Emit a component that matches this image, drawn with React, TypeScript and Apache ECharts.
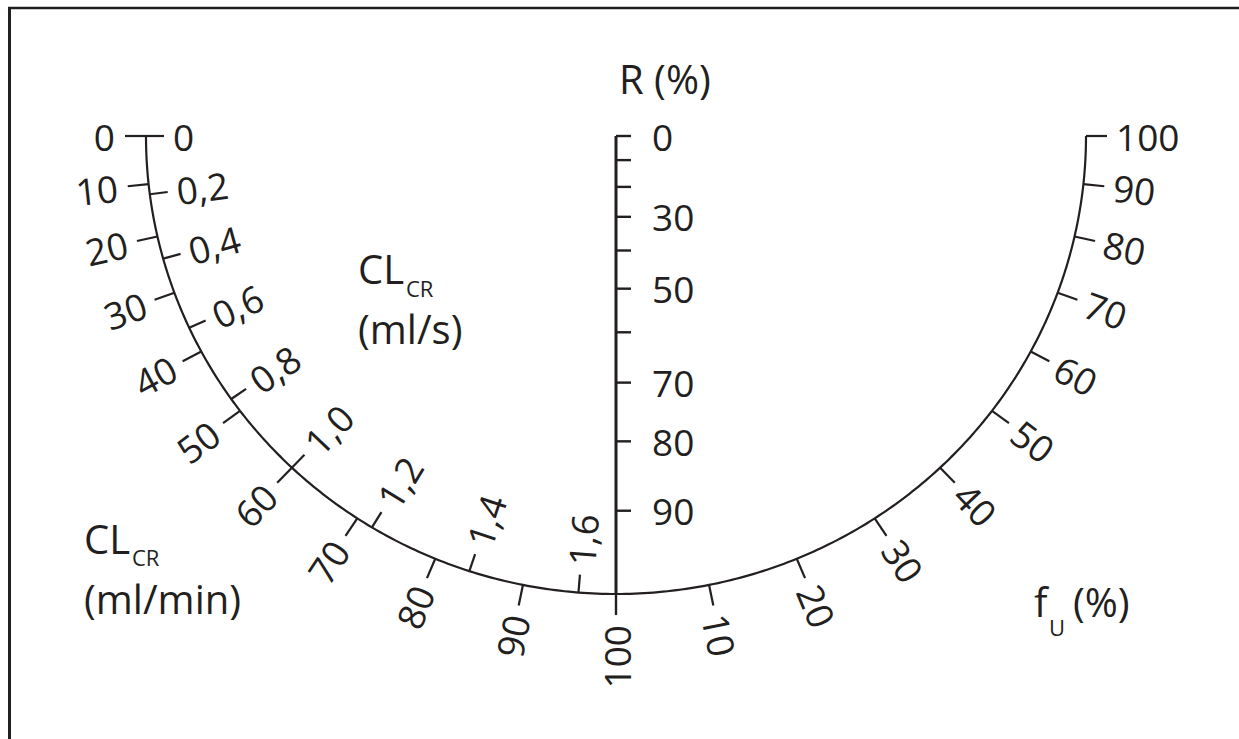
import React, { useEffect, useRef } from "react";
import * as echarts from "echarts";

// ---- data (scale values & labels) ----
const clcrMlMin = [0, 10, 20, 30, 40, 50, 60, 70, 80, 90, 100];
const clcrMlMinLabels = ["0", "10", "20", "30", "40", "50", "60", "70", "80", "90", "100"];
const clcrMlS = [0, 0.2, 0.4, 0.6, 0.8, 1.0, 1.2, 1.4, 1.6];
const clcrMlSLabels = ["0", "0,2", "0,4", "0,6", "0,8", "1,0", "1,2", "1,4", "1,6"];
const fuValues = [0, 10, 20, 30, 40, 50, 60, 70, 80, 90, 100];
const fuLabels = ["", "10", "20", "30", "40", "50", "60", "70", "80", "90", "100"];
const rValues = [0, 10, 20, 30, 40, 50, 60, 70, 80, 90, 100];
const rLabels = ["0", "", "", "30", "", "50", "", "70", "80", "90", ""];
const NORMAL_CLCR = 100; // ml/min
const MLS_TO_MLMIN = 60;

// ---- nomogram scales (Dettli): R = 1 - fU * (1 - CLcr/normal) ----
const leftPhi = (c: number) => 2 * Math.atan(1 - c); // angle from bottom
const rightPhi = (f: number) => 2 * Math.atan(f);
const leftPoint = (c: number) => [-Math.sin(leftPhi(c)), -Math.cos(leftPhi(c))];
const rightPoint = (f: number) => [Math.sin(rightPhi(f)), -Math.cos(rightPhi(f))];
const rAxisY = (r: number) => -r / (2 - r);

const INK = "#231f20";
const FAMILY = '"Open Sans", "Noto Sans", sans-serif';
const NUM_SIZE = 37;
const TITLE_SIZE = 40;
const SUB_SIZE = 22;

function radial(api: any, p: number[]) {
  const o = api.coord([0, 0]);
  let dx = p[0] - o[0];
  let dy = p[1] - o[1];
  const len = Math.hypot(dx, dy) || 1;
  return [dx / len, dy / len];
}

const numStyle = (text: string, align: string) => ({
  text, align, verticalAlign: "middle", fill: INK, fontSize: NUM_SIZE, fontFamily: FAMILY,
});

export default function App() {
  const ref = useRef<HTMLDivElement>(null);
  useEffect(() => {
    if (!ref.current) return;
    const chart = echarts.init(ref.current, undefined, { renderer: "svg" });

    const frameSeries = {
      type: "custom",
      clip: false,
      silent: true,
      data: [[0, 0]],
      renderItem: (params: any, api: any) => {
        const pts: number[][] = [];
        for (let i = 0; i <= 200; i++) pts.push(api.coord(leftPoint(i / 200)));
        for (let i = 0; i <= 200; i++) pts.push(api.coord(rightPoint(i / 200)));
        const top = api.coord([0, rAxisY(0)]);
        const bot = api.coord([0, rAxisY(1)]);
        return {
          type: "group",
          children: [
            { type: "polyline", shape: { points: pts }, style: { stroke: INK, lineWidth: 2.2, fill: null } },
            { type: "line", shape: { x1: top[0], y1: top[1], x2: bot[0], y2: bot[1] }, style: { stroke: INK, lineWidth: 3 } },
          ],
        };
      },
    };

    const leftOuter = {
      type: "custom",
      clip: false,
      silent: true,
      data: clcrMlMin.map((v) => [v, 0]),
      renderItem: (params: any, api: any) => {
        const c = api.value(0) / NORMAL_CLCR;
        const p = api.coord(leftPoint(c));
        const [dx, dy] = radial(api, p);
        const rot = Math.PI / 2 - leftPhi(c);
        return {
          type: "group",
          children: [
            { type: "line", shape: { x1: p[0], y1: p[1], x2: p[0] + dx * 21, y2: p[1] + dy * 21 }, style: { stroke: INK, lineWidth: 2.2 } },
            {
              type: "text", x: p[0] + dx * 31, y: p[1] + dy * 31, rotation: rot,
              style: numStyle(clcrMlMinLabels[params.dataIndex], "right"),
            },
          ],
        };
      },
    };

    const leftInner = {
      type: "custom",
      clip: false,
      silent: true,
      data: clcrMlS.map((v) => [v, 0]),
      renderItem: (params: any, api: any) => {
        const c = (api.value(0) * MLS_TO_MLMIN) / NORMAL_CLCR;
        const p = api.coord(leftPoint(c));
        const [dx, dy] = radial(api, p);
        const rot = Math.PI / 2 - leftPhi(c);
        return {
          type: "group",
          children: [
            { type: "line", shape: { x1: p[0], y1: p[1], x2: p[0] - dx * 18, y2: p[1] - dy * 18 }, style: { stroke: INK, lineWidth: 2.2 } },
            {
              type: "text", x: p[0] - dx * 27, y: p[1] - dy * 27, rotation: rot,
              style: numStyle(clcrMlSLabels[params.dataIndex], "left"),
            },
          ],
        };
      },
    };

    const rightScale = {
      type: "custom",
      clip: false,
      silent: true,
      data: fuValues.map((v) => [v, 0]),
      renderItem: (params: any, api: any) => {
        const f = api.value(0) / 100;
        const p = api.coord(rightPoint(f));
        const [dx, dy] = radial(api, p);
        const rot = -(Math.PI / 2 - rightPhi(f));
        const children: any[] = [
          { type: "line", shape: { x1: p[0], y1: p[1], x2: p[0] + dx * 21, y2: p[1] + dy * 21 }, style: { stroke: INK, lineWidth: 2.2 } },
        ];
        const t = fuLabels[params.dataIndex];
        if (t) {
          children.push({
            type: "text", x: p[0] + dx * 30, y: p[1] + dy * 30, rotation: rot,
            style: numStyle(t, "left"),
          });
        }
        return { type: "group", children };
      },
    };

    const rScale = {
      type: "custom",
      clip: false,
      silent: true,
      data: rValues.map((v) => [0, v]),
      renderItem: (params: any, api: any) => {
        const r = api.value(1) / 100;
        const p = api.coord([0, rAxisY(r)]);
        const children: any[] = [];
        if (r < 1) {
          children.push({ type: "line", shape: { x1: p[0], y1: p[1], x2: p[0] + 15, y2: p[1] }, style: { stroke: INK, lineWidth: 2.4 } });
        }
        const t = rLabels[params.dataIndex];
        if (t) {
          children.push({ type: "text", x: p[0] + 36, y: p[1], style: numStyle(t, "left") });
        }
        return { type: "group", children };
      },
    };

    const txt = (text: string, x: number, y: number, size: number) => ({
      type: "text", x, y, silent: true,
      style: { text, fontSize: size, fontFamily: FAMILY, fill: INK, align: "left", verticalAlign: "middle" },
    });

    chart.setOption({
      animation: false,
      backgroundColor: "#ffffff",
      grid: { left: 146, top: 136, width: 940, height: 458 },
      xAxis: { type: "value", min: -1, max: 1, show: false },
      yAxis: { type: "value", min: -1, max: 0, show: false },
      graphic: [
        { type: "line", silent: true, shape: { x1: 8, y1: 8, x2: 1239, y2: 8 }, style: { stroke: INK, lineWidth: 2.5 } },
        { type: "line", silent: true, shape: { x1: 9.5, y1: 7, x2: 9.5, y2: 739 }, style: { stroke: INK, lineWidth: 3 } },
        txt("R (%)", 619, 78, TITLE_SIZE),
        txt("CL", 358, 268, TITLE_SIZE),
        txt("CR", 406, 288, SUB_SIZE),
        txt("(ml/s)", 358, 328, TITLE_SIZE),
        txt("CL", 84, 538, TITLE_SIZE),
        txt("CR", 132, 557, SUB_SIZE),
        txt("(ml/min)", 84, 598, TITLE_SIZE),
        txt("f", 1034, 601, TITLE_SIZE),
        txt("U", 1049, 627, SUB_SIZE),
        txt("(%)", 1073, 601, TITLE_SIZE),
      ],
      series: [frameSeries, leftOuter, leftInner, rightScale, rScale],
    });
    return () => chart.dispose();
  }, []);
  return (
    <div
      ref={ref}
      style={{ position: "fixed", left: 0, top: 0, width: 1239, height: 739, background: "#fff" }}
    />
  );
}
